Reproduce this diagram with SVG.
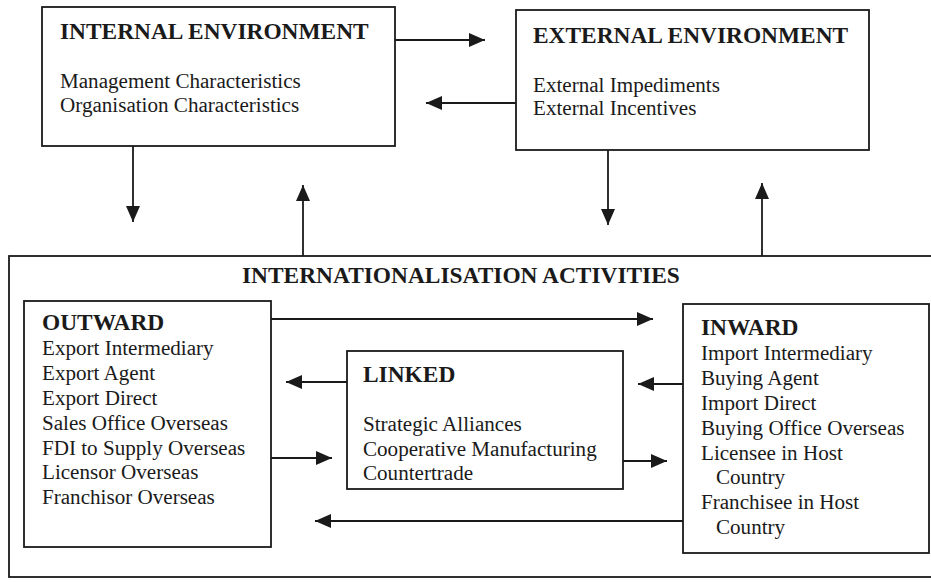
<svg xmlns="http://www.w3.org/2000/svg" width="931" height="582" viewBox="0 0 931 582">
  <style>
    .box { fill: #ffffff; stroke: #1a1a1a; stroke-width: 1.8; }
    .edge { fill: none; stroke: #1a1a1a; stroke-width: 1.8; marker-end: url(#arrow); }
    .title { font-family: "Liberation Serif", "Times New Roman", serif; font-weight: bold; font-size: 23.4px; fill: #1a1a1a; }
    .item { font-family: "Liberation Serif", "Times New Roman", serif; font-size: 21.1px; fill: #1a1a1a; }
  </style>
  <defs>
    <marker id="arrow" markerUnits="userSpaceOnUse" markerWidth="17" markerHeight="15" refX="16" refY="7" orient="auto">
      <path d="M0,0 L16,7 L0,14 Z" fill="#1a1a1a"/>
    </marker>
  </defs>
  <rect width="931" height="582" fill="#ffffff"/>

  <!-- container for the activity groups (right edge runs off the page) -->
  <g id="activities">
    <rect class="box" x="9" y="256" width="930" height="321"/>
    <text class="title" x="242" y="283">INTERNATIONALISATION ACTIVITIES</text>
  </g>

  <g id="internal">
    <rect class="box" x="42" y="7" width="353" height="139"/>
    <text class="title" x="60" y="39">INTERNAL ENVIRONMENT</text>
    <text class="item" x="60" y="88">Management Characteristics</text>
    <text class="item" x="60" y="112">Organisation Characteristics</text>
  </g>

  <g id="external">
    <rect class="box" x="516" y="10" width="353" height="140"/>
    <text class="title" x="533" y="43">EXTERNAL ENVIRONMENT</text>
    <text class="item" x="533" y="92">External Impediments</text>
    <text class="item" x="533" y="115">External Incentives</text>
  </g>

  <g id="outward">
    <rect class="box" x="24" y="301" width="247" height="246"/>
    <text class="title" x="42" y="330">OUTWARD</text>
    <text class="item" x="42" y="355">Export Intermediary</text>
    <text class="item" x="42" y="380">Export Agent</text>
    <text class="item" x="42" y="405">Export Direct</text>
    <text class="item" x="42" y="430">Sales Office Overseas</text>
    <text class="item" x="42" y="455">FDI to Supply Overseas</text>
    <text class="item" x="42" y="479">Licensor Overseas</text>
    <text class="item" x="42" y="504">Franchisor Overseas</text>
  </g>

  <g id="linked">
    <rect class="box" x="347" y="351" width="276" height="138"/>
    <text class="title" x="363" y="382">LINKED</text>
    <text class="item" x="363" y="431">Strategic Alliances</text>
    <text class="item" x="363" y="456">Cooperative Manufacturing</text>
    <text class="item" x="363" y="480">Countertrade</text>
  </g>

  <g id="inward">
    <rect class="box" x="683" y="304" width="246" height="249"/>
    <text class="title" x="701" y="335">INWARD</text>
    <text class="item" x="701" y="360">Import Intermediary</text>
    <text class="item" x="701" y="385">Buying Agent</text>
    <text class="item" x="701" y="410">Import Direct</text>
    <text class="item" x="701" y="435">Buying Office Overseas</text>
    <text class="item" x="701" y="460">Licensee in Host</text>
    <text class="item" x="716" y="484">Country</text>
    <text class="item" x="701" y="509">Franchisee in Host</text>
    <text class="item" x="716" y="534">Country</text>
  </g>

  <g id="connectors">
    <!-- environment exchanges -->
    <line class="edge" x1="395" y1="40" x2="485" y2="40"/>
    <line class="edge" x1="516" y1="103" x2="426" y2="103"/>
    <!-- environments to and from activities -->
    <line class="edge" x1="133" y1="146" x2="133" y2="222"/>
    <line class="edge" x1="303" y1="256" x2="303" y2="185"/>
    <line class="edge" x1="608" y1="150" x2="608" y2="225"/>
    <line class="edge" x1="762" y1="256" x2="762" y2="183"/>
    <!-- links among activity groups -->
    <line class="edge" x1="271" y1="319" x2="653" y2="319"/>
    <line class="edge" x1="347" y1="382" x2="286" y2="382"/>
    <line class="edge" x1="271" y1="458" x2="332" y2="458"/>
    <line class="edge" x1="683" y1="384" x2="638" y2="384"/>
    <line class="edge" x1="623" y1="461" x2="667" y2="461"/>
    <line class="edge" x1="683" y1="521" x2="315" y2="521"/>
  </g>
</svg>
